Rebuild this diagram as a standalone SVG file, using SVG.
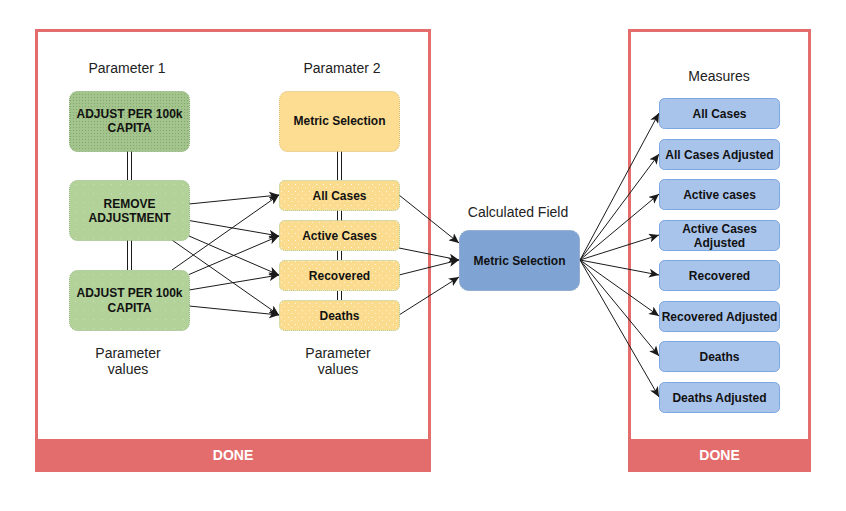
<svg xmlns="http://www.w3.org/2000/svg" width="846" height="511" viewBox="0 0 846 511">
<style>
  .lbl { font-family: "Liberation Sans", Arial, sans-serif; font-size: 14px; fill: #222; text-anchor: middle; }
  .bt { font-family: "Liberation Sans", Arial, sans-serif; font-size: 12px; font-weight: bold; fill: #111; text-anchor: middle; }
  .done { font-family: "Liberation Sans", Arial, sans-serif; font-size: 14px; font-weight: bold; fill: #ffffff; text-anchor: middle; }
  .frame { fill: none; stroke: #e36d6d; stroke-width: 3; }
  .bar { fill: #e36d6d; }
  .gdark { fill: url(#dotDark); stroke: #7fa868; stroke-width: 1; stroke-dasharray: 1 1; }
  .green { fill: url(#dotGreen); stroke: #8fb67a; stroke-width: 1; stroke-dasharray: 1 1; }
  .ysolid { fill: #fcdd92; stroke: #d9b86a; stroke-width: 1; stroke-dasharray: 1 1; }
  .yellow { fill: url(#dotYellow); stroke: #a9c98a; stroke-width: 1; stroke-dasharray: 1 1; }
  .calc { fill: #7fa4d4; stroke: #6b8cb8; stroke-width: 1; stroke-dasharray: 1 1; }
  .meas { fill: #a9c4eb; stroke: #7ea6e0; stroke-width: 1; }
  .edge { fill: none; stroke: #1a1a1a; stroke-width: 1; marker-end: url(#arr); }
  .link { fill: none; stroke: #1a1a1a; stroke-width: 1; }
</style>
<defs>
  <marker id="arr" markerUnits="userSpaceOnUse" markerWidth="11" markerHeight="9" refX="10" refY="4.5" orient="auto">
    <path d="M0,0 L10,4.5 L0,9 L2.5,4.5 Z" fill="#1a1a1a"/>
  </marker>
  <pattern id="dotDark" width="3" height="3" patternUnits="userSpaceOnUse">
    <rect width="3" height="3" fill="#a3c48c"/>
    <rect x="1" y="1" width="1" height="1" fill="#6f9458" opacity="0.6"/>
  </pattern>
  <pattern id="dotGreen" width="9" height="9" patternUnits="userSpaceOnUse">
    <rect width="9" height="9" fill="#b2d29a"/>
    <rect x="3" y="4" width="1" height="1" fill="#ffffff" opacity="0.3"/>
  </pattern>
  <pattern id="dotYellow" width="7" height="7" patternUnits="userSpaceOnUse">
    <rect width="7" height="7" fill="#fbdc8e"/>
    <rect x="1" y="2" width="1" height="1" fill="#ffffff" opacity="0.8"/>
    <rect x="4" y="5" width="1" height="1" fill="#ffffff" opacity="0.6"/>
  </pattern>
</defs>

<g id="frames">
  <rect class="frame" x="36.5" y="30.5" width="393" height="410"/>
  <rect class="bar" x="35" y="439" width="396" height="33"/>
  <text class="done" x="233" y="460">DONE</text>
  <rect class="frame" x="629.5" y="30.5" width="180" height="410"/>
  <rect class="bar" x="628" y="439" width="183" height="33"/>
  <text class="done" x="719.5" y="460">DONE</text>
</g>

<g id="labels">
  <text class="lbl" x="127" y="73">Parameter 1</text>
  <text class="lbl" x="342" y="73">Paramater 2</text>
  <text class="lbl" x="128" y="358">Parameter</text>
  <text class="lbl" x="128" y="374">values</text>
  <text class="lbl" x="338" y="358">Parameter</text>
  <text class="lbl" x="338" y="374">values</text>
  <text class="lbl" x="518" y="217">Calculated Field</text>
  <text class="lbl" x="719" y="81">Measures</text>
</g>

<g id="connectors">
  <!-- double link lines -->
  <path class="link" d="M127.5,151 V180 M131.5,151 V180 M127.5,240 V270 M131.5,240 V270"/>
  <path class="link" d="M337.5,151 V180 M341.5,151 V180 M337.5,210 V221 M341.5,210 V221 M337.5,251 V260 M341.5,251 V260 M337.5,291 V300 M341.5,291 V300"/>
  <!-- from REMOVE ADJUSTMENT -->
  <path class="edge" d="M189,204 L279,195"/>
  <path class="edge" d="M189,220.5 L279,236"/>
  <path class="edge" d="M189,236 L279,275"/>
  <path class="edge" d="M172,240 L279,315"/>
  <!-- from bottom ADJUST -->
  <path class="edge" d="M172,270 L279,195"/>
  <path class="edge" d="M189,274.5 L279,236"/>
  <path class="edge" d="M189,290 L279,275"/>
  <path class="edge" d="M189,306 L279,315"/>
  <!-- yellow to calculated field -->
  <path class="edge" d="M399,195 L459,243"/>
  <path class="edge" d="M399,248 L459,260"/>
  <path class="edge" d="M399,275 L459,260"/>
  <path class="edge" d="M399,315 L459,277"/>
  <!-- calculated field to measures -->
  <path class="edge" d="M580,260 L659,113"/>
  <path class="edge" d="M580,260 L659,154"/>
  <path class="edge" d="M580,260 L659,194"/>
  <path class="edge" d="M580,260 L659,235"/>
  <path class="edge" d="M580,260 L659,275"/>
  <path class="edge" d="M580,260 L659,316"/>
  <path class="edge" d="M580,260 L659,356"/>
  <path class="edge" d="M580,260 L659,397"/>
</g>

<g id="p1-adjust-top">
  <rect class="gdark" x="69.5" y="91.5" width="120" height="60" rx="8"/>
  <text class="bt" x="129.5" y="118">ADJUST PER 100k</text>
  <text class="bt" x="129.5" y="131.5">CAPITA</text>
</g>
<g id="p1-remove">
  <rect class="green" x="69.5" y="180.5" width="120" height="60" rx="8"/>
  <text class="bt" x="129.5" y="208">REMOVE</text>
  <text class="bt" x="129.5" y="222">ADJUSTMENT</text>
</g>
<g id="p1-adjust-bottom">
  <rect class="green" x="69.5" y="270.5" width="120" height="60" rx="8"/>
  <text class="bt" x="129.5" y="297">ADJUST PER 100k</text>
  <text class="bt" x="129.5" y="311.5">CAPITA</text>
</g>

<g id="p2-metric">
  <rect class="ysolid" x="279.5" y="91.5" width="120" height="60" rx="8"/>
  <text class="bt" x="339.5" y="125">Metric Selection</text>
</g>
<g id="p2-all">
  <rect class="yellow" x="279.5" y="180.5" width="120" height="30" rx="5"/>
  <text class="bt" x="339.5" y="199.5">All Cases</text>
</g>
<g id="p2-active">
  <rect class="yellow" x="279.5" y="220.5" width="120" height="30" rx="5"/>
  <text class="bt" x="339.5" y="239.5">Active Cases</text>
</g>
<g id="p2-recovered">
  <rect class="yellow" x="279.5" y="260.5" width="120" height="30" rx="5"/>
  <text class="bt" x="339.5" y="279.5">Recovered</text>
</g>
<g id="p2-deaths">
  <rect class="yellow" x="279.5" y="300.5" width="120" height="30" rx="5"/>
  <text class="bt" x="339.5" y="319.5">Deaths</text>
</g>

<g id="calc">
  <rect class="calc" x="459.5" y="230.5" width="120" height="60" rx="9"/>
  <text class="bt" x="519.5" y="265">Metric Selection</text>
</g>

<g id="m-all">
  <rect class="meas" x="659.5" y="98.5" width="120" height="30" rx="5"/>
  <text class="bt" x="719.5" y="117.5">All Cases</text>
</g>
<g id="m-all-adj">
  <rect class="meas" x="659.5" y="139.5" width="120" height="30" rx="5"/>
  <text class="bt" x="719.5" y="158.5">All Cases Adjusted</text>
</g>
<g id="m-active">
  <rect class="meas" x="659.5" y="179.5" width="120" height="30" rx="5"/>
  <text class="bt" x="719.5" y="198.5">Active cases</text>
</g>
<g id="m-active-adj">
  <rect class="meas" x="659.5" y="220.5" width="120" height="30" rx="5"/>
  <text class="bt" x="719.5" y="232.5">Active Cases</text>
  <text class="bt" x="719.5" y="246.5">Adjusted</text>
</g>
<g id="m-recovered">
  <rect class="meas" x="659.5" y="260.5" width="120" height="30" rx="5"/>
  <text class="bt" x="719.5" y="279.5">Recovered</text>
</g>
<g id="m-recovered-adj">
  <rect class="meas" x="659.5" y="301.5" width="120" height="30" rx="5"/>
  <text class="bt" x="719.5" y="320.5">Recovered Adjusted</text>
</g>
<g id="m-deaths">
  <rect class="meas" x="659.5" y="341.5" width="120" height="30" rx="5"/>
  <text class="bt" x="719.5" y="360.5">Deaths</text>
</g>
<g id="m-deaths-adj">
  <rect class="meas" x="659.5" y="382.5" width="120" height="30" rx="5"/>
  <text class="bt" x="719.5" y="401.5">Deaths Adjusted</text>
</g>
</svg>
